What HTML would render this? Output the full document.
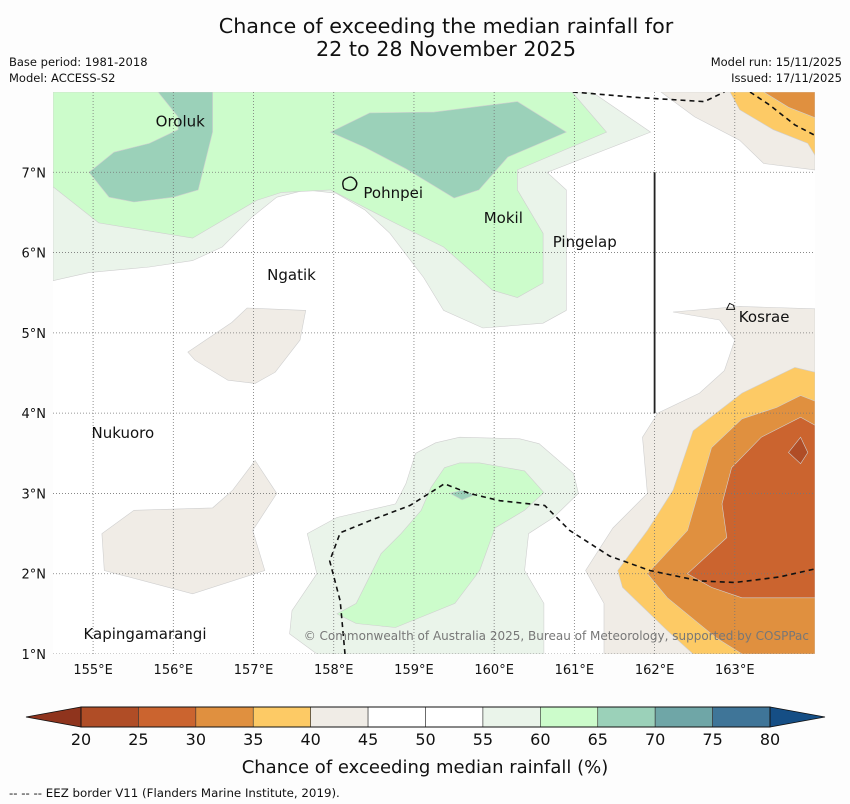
<!DOCTYPE html>
<html><head><meta charset="utf-8">
<style>
html,body{margin:0;padding:0;background:#fdfdfd;}
svg{display:block;font-family:"DejaVu Sans","Liberation Sans",sans-serif;}
</style></head>
<body>
<svg id="chart" xmlns="http://www.w3.org/2000/svg" width="850" height="804" viewBox="0 0 850 804">
<rect x="0" y="0" width="850" height="804" fill="#fdfdfd"/>
<text x="446" y="33" font-size="20.7" text-anchor="middle" fill="#111">Chance of exceeding the median rainfall for</text>
<text x="446" y="56" font-size="20.7" text-anchor="middle" fill="#111">22 to 28 November 2025</text>
<text x="9" y="66" font-size="11.5" fill="#111">Base period: 1981-2018</text>
<text x="9" y="82" font-size="11.5" fill="#111">Model: ACCESS-S2</text>
<text x="842" y="66" font-size="11.5" text-anchor="end" fill="#111">Model run: 15/11/2025</text>
<text x="842" y="82" font-size="11.5" text-anchor="end" fill="#111">Issued: 17/11/2025</text>
<g id="map"></g>
<g id="axes"></g>
<g id="cbar"></g>
<text x="425" y="773" font-size="18" text-anchor="middle" fill="#111">Chance of exceeding median rainfall (%)</text>
<text x="9" y="797" font-size="11.8" fill="#111">--  --  -- EEZ border V11 (Flanders Marine Institute, 2019).</text>
</svg>
<script>
// ---- axis setup ----
var lonMin = 154.5, lonMax = 164.0, latMin = 1.0, latMax = 8.0;
var lonTicks = [155,156,157,158,159,160,161,162,163];
var latTicks = [1,2,3,4,5,6,7];
var cbarLevels = [20,25,30,35,40,45,50,55,60,65,70,75,80];
var cbarColors = ["#b04d26","#cb642f","#e0903f","#fdca65","#f0ece6","#ffffff","#ffffff","#eaf4ea","#ccfccb","#9bd1b9","#6fa6a7","#3f7598"];
// contour regions [lon,lat]
var paleGreenTop = [[154.5,8],[161.22,8],[161.95,7.5],[160.66,7.0],[160.9,6.78],[160.9,5.28],[160.61,5.12],[159.86,5.06],[159.37,5.28],[159.12,5.69],[158.7,6.24],[158.39,6.53],[158.03,6.74],[157.65,6.78],[157.29,6.69],[156.98,6.44],[156.61,6.07],[156.24,5.9],[155.7,5.82],[154.95,5.75],[154.5,5.65]];
var lightGreenTop = [[154.5,8],[160.97,8],[161.4,7.5],[160.29,7.03],[160.29,6.78],[160.61,6.24],[160.61,5.62],[160.29,5.44],[159.98,5.53],[159.37,6.07],[158.76,6.37],[157.96,6.78],[157.35,6.75],[157.04,6.65],[156.24,6.18],[155.07,6.37],[154.5,6.82]];
var darkGreenLeft = [[155.81,8],[156.49,8],[156.49,7.5],[156.31,6.78],[156.0,6.69],[155.51,6.63],[155.2,6.69],[154.95,7.0],[155.26,7.25],[155.7,7.36],[156.06,7.53],[156.06,7.69]];
var darkGreenMid = [[157.96,7.5],[158.45,7.74],[159.25,7.75],[160.29,7.88],[160.9,7.5],[160.17,7.19],[159.81,6.78],[159.5,6.68],[158.89,7.05],[158.39,7.31]];
var beigeA = [[156.18,4.76],[156.73,5.13],[156.92,5.31],[157.65,5.28],[157.58,4.91],[157.27,4.51],[157.02,4.37],[156.68,4.41],[156.27,4.66]];
var beigeB = [[157.02,3.41],[157.29,3.0],[156.99,2.54],[157.14,2.04],[156.24,1.75],[155.14,2.04],[155.11,2.5],[155.51,2.79],[156.49,2.82],[156.74,3.04]];
var beigeEast = [[162.23,5.26],[163.06,5.33],[164,5.3],[164,1],[161.37,1],[161.37,1.63],[161.14,2.04],[161.48,2.57],[161.91,3.0],[161.85,3.7],[162.04,4.0],[162.56,4.25],[162.87,4.53],[163.0,4.91],[162.81,5.16]];
var yellowEast = [[163.75,4.57],[164,4.51],[164,1],[162.48,1],[162.16,1.29],[161.6,1.83],[161.54,2.04],[161.91,2.54],[162.23,3.04],[162.48,3.78],[163.09,4.25]];
var orangeEast = [[163.82,4.22],[164,4.15],[164,1],[163.09,1],[162.77,1.2],[162.16,1.7],[161.91,2.0],[162.41,2.54],[162.71,3.57],[163.09,3.93],[163.52,4.07]];
var darkOrangeEast = [[163.82,3.95],[164,3.85],[164,1.7],[163.09,1.7],[162.71,1.83],[162.41,2.0],[162.9,2.45],[162.84,2.87],[162.96,3.32],[163.33,3.7]];
var darkestEast = [[163.82,3.7],[163.91,3.51],[163.82,3.37],[163.67,3.51]];
var beigeNE = [[162.08,8],[164,8],[164,7.03],[163.36,7.11],[163.06,7.4],[162.5,7.69]];
var yellowNE = [[162.94,8],[164,8],[164,7.21],[163.91,7.36],[163.48,7.53],[163.06,7.78]];
var orangeNE = [[163.36,8],[164,8],[164,7.68],[163.67,7.81]];
var paleGreenMid = [[159.02,3.5],[159.27,3.63],[159.57,3.7],[160.32,3.68],[160.56,3.62],[160.99,3.25],[161.05,3.0],[160.74,2.7],[160.43,2.5],[160.38,2.04],[160.62,1.63],[160.62,1],[157.79,1],[157.45,1.25],[157.48,1.54],[157.79,2.0],[157.67,2.5],[158.04,2.7],[158.77,2.87],[158.9,3.12]];
var lightGreenMid = [[159.38,3.32],[159.57,3.38],[159.82,3.38],[160.38,3.28],[160.62,3.01],[160.38,2.79],[160.01,2.57],[159.82,2.04],[159.51,1.63],[158.77,1.33],[158.28,1.38],[158.04,1.5],[158.28,1.63],[158.59,2.25],[158.84,2.5],[159.09,2.79],[159.21,3.07]];
var darkGreenSpot = [[159.45,3.0],[159.6,3.04],[159.75,2.98],[159.6,2.92]];
var eezSouth = [[158.14,1.0],[158.08,1.66],[157.95,2.16],[158.08,2.51],[158.45,2.66],[158.95,2.85],[159.38,3.12],[159.69,3.0],[160.07,2.91],[160.63,2.85],[160.94,2.54],[161.44,2.22],[161.94,2.04],[162.56,1.91],[163.0,1.89],[163.56,1.96],[164,2.06]];
var eezNorth1 = [[160.98,8],[161.81,7.93],[162.62,7.88],[162.87,8]];
var eezNorth2 = [[163.19,8],[163.43,7.84],[163.75,7.59],[164,7.46]];
var eezVertical = [[162,7],[162,4]];
var islandNames = ["Oroluk","Pohnpei","Mokil","Pingelap","Ngatik","Kosrae","Nukuoro","Kapingamarangi"];
var islandLons = [155.78,158.37,159.87,160.73,157.17,163.05,154.98,154.88];
var islandLats = [7.63,6.74,6.43,6.13,5.72,5.2,3.75,1.25];

var NS="http://www.w3.org/2000/svg";
var X0=53,X1=815,Y0=92,Y1=654;
function X(lon){return X0+(lon-lonMin)/(lonMax-lonMin)*(X1-X0);}
function Y(lat){return Y1-(lat-latMin)/(latMax-latMin)*(Y1-Y0);}
function mk(tag,parent,attrs){var e=document.createElementNS(NS,tag);for(var k in attrs)e.setAttribute(k,attrs[k]);parent.appendChild(e);return e;}
function pts(a){return a.map(function(p){return X(p[0]).toFixed(1)+","+Y(p[1]).toFixed(1);}).join(" ");}
var map=document.getElementById("map");
var clip=mk("clipPath",map,{id:"mapclip"});
mk("rect",clip,{x:X0,y:Y0,width:X1-X0,height:Y1-Y0});
var g=mk("g",map,{"clip-path":"url(#mapclip)"});
var bg=mk("rect",g,{x:X0,y:Y0,width:X1-X0,height:Y1-Y0,fill:"#ffffff"});


var regions=[
 [paleGreenTop,"#eaf4ea","region-55-60-north"],
 [lightGreenTop,"#ccfccb","region-60-65-north"],
 [darkGreenLeft,"#9bd1b9","region-65-70-west"],
 [darkGreenMid,"#9bd1b9","region-65-70-north"],
 [beigeA,"#f0ece6","region-40-45-ngatik"],
 [beigeB,"#f0ece6","region-40-45-southwest"],
 [beigeEast,"#f0ece6","region-40-45-east"],
 [yellowEast,"#fdca65","region-35-40-east"],
 [orangeEast,"#e0903f","region-30-35-east"],
 [darkOrangeEast,"#cb642f","region-25-30-east"],
 [darkestEast,"#b04d26","region-20-25-east"],
 [beigeNE,"#f0ece6","region-40-45-northeast"],
 [yellowNE,"#fdca65","region-35-40-northeast"],
 [orangeNE,"#e0903f","region-30-35-northeast"],
 [paleGreenMid,"#eaf4ea","region-55-60-south"],
 [lightGreenMid,"#ccfccb","region-60-65-south"],
 [darkGreenSpot,"#9bd1b9","region-65-70-south"]
];
regions.forEach(function(r){
 var p=mk("polygon",g,{points:pts(r[0]),fill:r[1],stroke:"#cfcfcf","stroke-width":"0.6"});
 
 
});
// gridlines
lonTicks.forEach(function(l){
 var ln=mk("line",g,{x1:X(l),x2:X(l),y1:Y0,y2:Y1,stroke:"#777","stroke-width":"0.8","stroke-dasharray":"1,2"});
 
 
});
latTicks.forEach(function(l){
 var ln=mk("line",g,{x1:X0,x2:X1,y1:Y(l),y2:Y(l),stroke:"#777","stroke-width":"0.8","stroke-dasharray":"1,2"});
 
 
});
// EEZ
[eezSouth,eezNorth1,eezNorth2].forEach(function(a){
 var pl=mk("polyline",g,{points:pts(a),fill:"none",stroke:"#111","stroke-width":"1.6","stroke-dasharray":"5,4"});
 
 
});
var vl=mk("polyline",g,{points:pts(eezVertical),fill:"none",stroke:"#222","stroke-width":"1.8"});


// Pohnpei outline
var ph=mk("path",g,{d:"M"+(X(158.2)-6)+","+(Y(6.85)+4)+" q-3,-8 3,-10 q4,-3 8,1 q4,4 0,9 q-5,4 -11,0z",fill:"none",stroke:"#111","stroke-width":"1.4"});


var ks=mk("path",g,{d:"M"+(X(162.96)-5)+","+(Y(5.33)+3)+" l3,-6 l4,2 l1,4 z",fill:"none",stroke:"#111","stroke-width":"1"});


// island labels
islandNames.forEach(function(n,i){
 var t=mk("text",g,{x:X(islandLons[i]),y:Y(islandLats[i])+5,"font-size":"15",fill:"#111"});
 t.textContent=n;
 
 
});
var cp=mk("text",g,{x:809,y:640,"font-size":"12","text-anchor":"end",fill:"#777"});
cp.textContent="© Commonwealth of Australia 2025, Bureau of Meteorology, supported by COSPPac";


// axes labels
var ax=document.getElementById("axes");
lonTicks.forEach(function(l){
 var t=mk("text",ax,{x:X(l),y:674,"font-size":"13","text-anchor":"middle",fill:"#111"});
 t.textContent=l+"°E";
 
 
});
latTicks.forEach(function(l){
 var t=mk("text",ax,{x:46,y:Y(l)+5,"font-size":"13","text-anchor":"end",fill:"#111"});
 t.textContent=l+"°N";
 
 
});
// colorbar
var cb=document.getElementById("cbar");
var CX0=81,CX1=770,CY0=707,CY1=727;
function CX(v){return CX0+(v-cbarLevels[0])/(cbarLevels[cbarLevels.length-1]-cbarLevels[0])*(CX1-CX0);}
var lt=mk("polygon",cb,{points:CX0+","+CY0+" "+CX0+","+CY1+" 26,"+((CY0+CY1)/2),fill:"#8f341d",stroke:"#111","stroke-width":"0.8"});


var rt=mk("polygon",cb,{points:CX1+","+CY0+" "+CX1+","+CY1+" 825,"+((CY0+CY1)/2),fill:"#154e85",stroke:"#111","stroke-width":"0.8"});


cbarColors.forEach(function(c,i){
 var r=mk("rect",cb,{x:CX(cbarLevels[i]),y:CY0,width:CX(cbarLevels[i+1])-CX(cbarLevels[i]),height:CY1-CY0,fill:c,stroke:"#333","stroke-width":"0.6"});
 
 
});
mk("rect",cb,{x:CX0,y:CY0,width:CX1-CX0,height:CY1-CY0,fill:"none",stroke:"#111","stroke-width":"1"});
cbarLevels.forEach(function(v){
 var t=mk("text",cb,{x:CX(v),y:745,"font-size":"16","text-anchor":"middle",fill:"#111"});
 t.textContent=v;
 
 
});
</script>
</body></html>
